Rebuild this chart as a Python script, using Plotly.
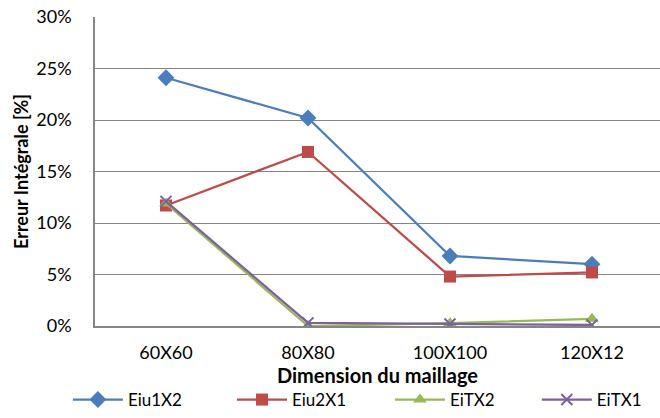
import plotly.graph_objects as go

# Mesh sizes and integral error per series (fractions)
categories = ["60X60", "80X80", "100X100", "120X12"]
eiu1x2 = [0.241, 0.202, 0.068, 0.060]
eiu2x1 = [0.117, 0.169, 0.048, 0.052]
eitx2 = [0.119, 0.000, 0.0027, 0.007]
eitx1 = [0.121, 0.003, 0.002, 0.001]
y_ticks = [0, 0.05, 0.10, 0.15, 0.20, 0.25, 0.30]

FONT = "Lato"
GRID = "#868686"

series = [
    ("Eiu1X2", eiu1x2, "#4A7EBB", dict(symbol="diamond", size=13)),
    ("Eiu2X1", eiu2x1, "#BE4B48", dict(symbol="square", size=12)),
    ("EiTX2", eitx2, "#98B954", dict(symbol="triangle-up", size=12)),
    ("EiTX1", eitx1, "#7D60A0", dict(symbol="x-thin", size=11, line=dict(width=2, color="#7D60A0"))),
]

# one single-entry legend per series, spaced along the bottom
legend_x = [-0.048, 0.2425, 0.522, 0.782]
legend_ids = ["legend", "legend2", "legend3", "legend4"]

fig = go.Figure()
for (name, vals, color, marker), lid in zip(series, legend_ids):
    fig.add_trace(go.Scatter(
        x=categories, y=vals, name=name, mode="lines+markers",
        line=dict(color=color, width=2.25),
        marker=dict(color=color, **marker),
        legend=lid,
    ))

# x-axis title placed as an annotation so it sits close under the tick labels
fig.add_annotation(
    text="<b>Dimension du maillage</b>", xref="paper", yref="paper",
    x=0.5, y=-0.157, xanchor="center", yanchor="middle", showarrow=False,
    font=dict(family=FONT, size=20, color="#000000"),
)

legend_style = dict(
    orientation="h", xanchor="left", y=-0.240, yanchor="middle",
    font=dict(family=FONT, size=17, color="#000000"), itemwidth=50,
    bgcolor="rgba(0,0,0,0)",
)
legends = {lid: dict(x=lx, **legend_style) for lid, lx in zip(legend_ids, legend_x)}

fig.update_layout(
    width=660, height=418,
    margin=dict(l=95, r=0, t=17, b=92),
    paper_bgcolor="white", plot_bgcolor="white",
    font=dict(family=FONT, size=18, color="#000000"),
    showlegend=True,
    xaxis=dict(
        type="category", range=[-0.5, 3.479],
        showgrid=False, showline=True, linecolor=GRID, linewidth=1.5,
        ticks="", ticklabelstandoff=10,
    ),
    yaxis=dict(
        range=[0, 0.30], tickvals=y_ticks, tickformat=".0%",
        showgrid=True, gridcolor=GRID, gridwidth=1.3,
        showline=True, linecolor=GRID, linewidth=1.5, zeroline=False,
        ticks="", ticklabelstandoff=18,
        title=dict(text="<b>Erreur Intégrale [%]</b>", font=dict(family=FONT, size=18), standoff=3),
    ),
    **legends,
)

fig.write_html("out.html")
